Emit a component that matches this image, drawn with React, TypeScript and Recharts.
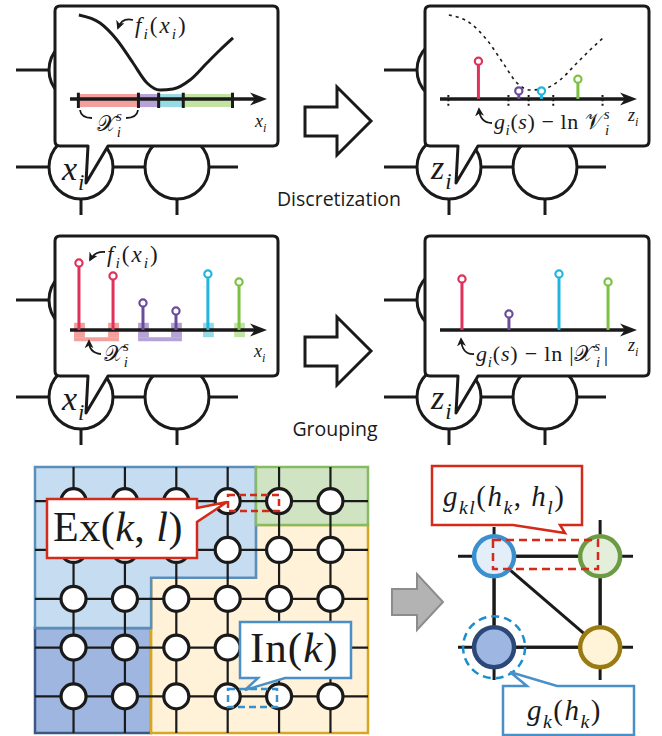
import React from 'react';
import {
  ComposedChart,
  ScatterChart,
  Line,
  Scatter,
  XAxis,
  YAxis,
  ReferenceArea,
  ReferenceLine,
  ReferenceDot,
} from 'recharts';

// ---------- data ----------
// f_i(x_i) (x in axis units, f above the axis)
const curveX = [0.9, 3.05, 4.77, 6.4, 7.82, 9.14, 10.46, 12.18, 13.9, 15.23, 16.55];
const curveF = [9.33, 8.44, 6.56, 4.0, 1.78, 1.0, 1.11, 2.11, 4.0, 5.44, 6.78];

// discretization bins X_i^s and their stems g_i(s) - ln V_i^s
const binEdges = [0.85, 6.95, 9.0, 11.5, 16.5];
const binStemX = [3.9, 8.0, 10.3, 14.0];
const binStemZ = [4.2, 0.9, 0.9, 2.2];

// grouping: discrete states of x_i, their f values and group id
const stateX = [0.91, 4.37, 7.41, 10.76, 14.0, 17.16];
const stateF = [7.44, 6.0, 3.0, 2.11, 6.22, 5.33];
const stateGroup = [0, 0, 1, 1, 2, 3];

// grouped stems g_i(s) - ln|X_i^s|
const groupStemX = [2.23, 7.0, 12.08, 17.06];
const groupStemZ = [5.67, 1.78, 6.22, 5.33];

// grid graph
const gridCols = [0, 1, 2, 3, 4, 5];
const gridRows = [0, 1, 2, 3, 4];

// cluster graph
const clusterCol = [0, 1, 0, 1];
const clusterRow = [0, 0, 1, 1];
const clusterEdges = [[0, 1], [0, 2], [1, 3], [2, 3], [0, 3]];

// ---------- styles ----------
const MATH = "'Liberation Serif', 'DejaVu Serif', serif";
const SANS = "'Open Sans', 'Noto Sans', sans-serif";
const INK = '#1a1a1a';
const stemColors = ['#e0315a', '#6b4c9a', '#22b5dd', '#7cc142'];
const binFills = ['#e8504f', '#7a55b5', '#40bccc', '#90cc58'];
const clusterFill = ['#e3eef9', '#e4efdb', '#9db6e2', '#fff3d8'];
const clusterStroke = ['#3a8fcf', '#6b9b43', '#2b4878', '#9a7b12'];

// lollipop panel geometry
const PW = 197;
const PH = 108;
const X_DOM: [number, number] = [0, 20];
const Y_DOM: [number, number] = [-2, 10];
const zeroY = (PH * Y_DOM[1]) / (Y_DOM[1] - Y_DOM[0]);
const ZERO = { top: 0, right: 0, bottom: 0, left: 0 };

// grid geometry
const G = { left: 35, top: 467, w: 334, h: 266, x: [-0.75, 5.75], y: [-0.7, 4.75] };
const gx = (c: number) => G.left + ((c - G.x[0]) / (G.x[1] - G.x[0])) * G.w;
const gy = (r: number) => G.top + ((r - G.y[0]) / (G.y[1] - G.y[0])) * G.h;

// cluster graph geometry
const C = { left: 458, top: 520, w: 175, h: 160, x: [-0.34, 1.31], y: [-0.4, 1.36] };
const cx = (c: number) => C.left + ((c - C.x[0]) / (C.x[1] - C.x[0])) * C.w;
const cy = (r: number) => C.top + ((r - C.y[0]) / (C.y[1] - C.y[0])) * C.h;

const curve = curveX.map((x, i) => ({ x, y: curveF[i] }));
const binStems = binStemX.map((x, i) => ({ x, y: binStemZ[i], k: i }));
const states = stateX.map((x, i) => ({ x, y: stateF[i], k: stateGroup[i] }));
const groupStems = groupStemX.map((x, i) => ({ x, y: groupStemZ[i], k: i }));
const gridNodes = gridRows.flatMap((r) => gridCols.map((c) => ({ x: c, y: r })));
const clusters = clusterCol.map((x, i) => ({ x, y: clusterRow[i], k: i }));

const stemShape = (p: any) => {
  const col = stemColors[p.payload.k];
  return (
    <g>
      <line x1={p.cx} x2={p.cx} y1={p.cy + 3} y2={zeroY} stroke={col} strokeWidth={3} />
      <circle cx={p.cx} cy={p.cy} r={3.6} fill="#fff" stroke={col} strokeWidth={2.2} />
    </g>
  );
};

const arrowHead = (p: any) => (
  <path
    d={`M${p.cx},${p.cy} L${p.cx - 17},${p.cy - 6.5} L${p.cx - 12},${p.cy} L${p.cx - 17},${p.cy + 6.5} Z`}
    fill={INK}
  />
);

function Panel({ left, top, children }: { left: number; top: number; children: React.ReactNode }) {
  return (
    <div style={{ position: 'absolute', left, top, width: PW, height: PH }}>
      <ComposedChart width={PW} height={PH} margin={ZERO}>
        <XAxis type="number" dataKey="x" domain={X_DOM} hide allowDataOverflow />
        <YAxis type="number" dataKey="y" domain={Y_DOM} hide allowDataOverflow />
        {children}
        <ReferenceLine
          segment={[{ x: 0, y: 0 }, { x: 19, y: 0 }]}
          stroke={INK}
          strokeWidth={3.5}
          ifOverflow="visible"
        />
        <ReferenceDot x={20} y={0} ifOverflow="visible" shape={arrowHead} />
      </ComposedChart>
    </div>
  );
}

// math text: segments [text, italic?, 'b' sub | 'p' sup | '', dx]
type Seg = [string, boolean, string?, number?];
function M({ x, y, size, segs, ls = 0 }: { x: number; y: number; size: number; segs: Seg[]; ls?: number }) {
  let cur = 0;
  return (
    <text x={x} y={y} fontFamily={MATH} fontSize={size} fill={INK} letterSpacing={ls}>
      {segs.map(([t, it, pos = '', dx = 0], k) => {
        const target = pos === 'b' ? size * 0.28 : pos === 'p' ? -size * 0.45 : 0;
        const dy = target - cur;
        cur = target;
        return (
          <tspan key={k} dx={dx} dy={dy} fontStyle={it ? 'italic' : 'normal'} fontSize={pos ? size * 0.68 : size}>
            {t}
          </tspan>
        );
      })}
    </text>
  );
}

function Bubble({ dx, dy, w }: { dx: number; dy: number; w: number }) {
  const x0 = 55 + dx, x1 = x0 + w, y0 = 6 + dy, y1 = 146 + dy, r = 5;
  const d = `M${x0 + r},${y0} H${x1 - r} Q${x1},${y0} ${x1},${y0 + r} V${y1 - r} Q${x1},${y1} ${x1 - r},${y1}
    H${108 + dx} L${86 + dx},${183 + dy} L${88 + dx},${y1} H${x0 + r} Q${x0},${y1} ${x0},${y1 - r} V${y0 + r} Q${x0},${y0} ${x0 + r},${y0} Z`;
  return <path d={d} fill="#fff" stroke={INK} strokeWidth={3} strokeLinejoin="round" />;
}

function Factor({ dx, dy }: { dx: number; dy: number }) {
  const xs = [81 + dx, 177 + dx];
  const ys = [70 + dy, 167 + dy];
  return (
    <g stroke={INK} strokeWidth={3}>
      {ys.map((y) => (
        <line key={'h' + y} x1={16 + dx} x2={238 + dx} y1={y} y2={y} />
      ))}
      {xs.map((x) => (
        <line key={'v' + x} x1={x} x2={x} y1={40 + dy} y2={215 + dy} />
      ))}
      {ys.map((y) => xs.map((x) => <circle key={x + '-' + y} cx={x} cy={y} r={32} fill="#fff" />))}
    </g>
  );
}

function BigArrow({ dy }: { dy: number }) {
  const pts = [
    [305, 107], [337, 107], [337, 87], [371, 121], [337, 155], [337, 136], [305, 136],
  ].map(([x, y]) => `${x},${y + dy}`).join(' ');
  return <polygon points={pts} fill="#fff" stroke={INK} strokeWidth={3} strokeLinejoin="miter" />;
}

const poly = (pts: number[][]) => pts.map(([c, r]) => `${gx(c)},${gy(r)}`).join(' ');

const regions = [
  { pts: [[-0.75, 2.6], [1.51, 2.6], [1.51, 4.75], [-0.75, 4.75]], fill: '#9fb6e0', stroke: '#3b5784' },
  { pts: [[3.55, 0.49], [5.73, 0.49], [5.73, 4.75], [1.51, 4.75], [1.51, 1.57], [3.55, 1.57]], fill: '#fff2d8', stroke: '#d6a624' },
  { pts: [[-0.75, -0.7], [3.55, -0.7], [3.55, 1.57], [1.51, 1.57], [1.51, 2.6], [-0.75, 2.6]], fill: '#c6dcf0', stroke: '#5b8eb9' },
  { pts: [[3.55, -0.7], [5.73, -0.7], [5.73, 0.49], [3.55, 0.49]], fill: '#d0e4c4', stroke: '#86bb63' },
];

export default function App() {
  return (
    <div style={{ position: 'absolute', left: 0, top: 0, width: 662, height: 736, background: '#fff', overflow: 'hidden' }}>
      <style>{'.recharts-surface{overflow:visible}'}</style>

      {/* background drawing */}
      <svg width={662} height={736} style={{ position: 'absolute', left: 0, top: 0 }}>
        <Factor dx={0} dy={0} />
        <Factor dx={368} dy={0} />
        <Factor dx={0} dy={230} />
        <Factor dx={368} dy={230} />
        <Bubble dx={0} dy={0} w={223} />
        <Bubble dx={370} dy={0} w={224} />
        <Bubble dx={0} dy={230} w={223} />
        <Bubble dx={370} dy={230} w={224} />
        <BigArrow dy={0} />
        <BigArrow dy={230} />
        <text x={339} y={206} textAnchor="middle" fontFamily={SANS} fontSize={19.5} fill={INK}>
          Discretization
        </text>
        <text x={335} y={436} textAnchor="middle" fontFamily={SANS} fontSize={19.5} fill={INK}>
          Grouping
        </text>

        {regions.map((g, i) => (
          <polygon key={i} points={poly(g.pts)} fill={g.fill} stroke={g.stroke} strokeWidth={2.5} />
        ))}
        <g stroke={INK} strokeWidth={2.2}>
          {gridRows.map((r) => (
            <line key={'r' + r} x1={G.left} x2={G.left + G.w - 1} y1={gy(r)} y2={gy(r)} />
          ))}
          {gridCols.map((c) => (
            <line key={'c' + c} x1={gx(c)} x2={gx(c)} y1={G.top} y2={G.top + G.h} />
          ))}
        </g>

        <polygon
          points="392,589 417,589 417,574 443,602 417,630 417,615 392,615"
          fill="#b3b3b3"
          stroke="#8c8c8c"
          strokeWidth={2}
        />

        <g stroke={INK} strokeWidth={3}>
          {clusterRow.slice(0, 2).map((_, i) => (
            <line key={'h' + i} x1={C.left} x2={C.left + C.w} y1={cy(i)} y2={cy(i)} />
          ))}
          <line x1={cx(0)} x2={cx(0)} y1={C.top + 7} y2={C.top + C.h} />
          <line x1={cx(1)} x2={cx(1)} y1={C.top} y2={C.top + C.h} />
          {clusterEdges.map(([a, b], i) => (
            <line
              key={'e' + i}
              x1={cx(clusterCol[a])}
              y1={cy(clusterRow[a])}
              x2={cx(clusterCol[b])}
              y2={cy(clusterRow[b])}
            />
          ))}
        </g>
      </svg>

      {/* top-left: continuous f_i(x_i) and its bins */}
      <Panel left={70} top={9}>
        <Line data={curve} dataKey="y" type="monotone" stroke={INK} strokeWidth={3} dot={false} isAnimationActive={false} />
        {binEdges.slice(0, -1).map((e, i) => (
          <ReferenceArea key={'b' + i} x1={e} x2={binEdges[i + 1]} y1={-0.9} y2={0.55} fill={binFills[i]} fillOpacity={0.55} stroke="none" />
        ))}
        {binEdges.map((e, i) => (
          <ReferenceLine key={'t' + i} segment={[{ x: e, y: 0.7 }, { x: e, y: -1.0 }]} stroke={INK} strokeWidth={3} />
        ))}
      </Panel>

      {/* top-right: discretized stems */}
      <Panel left={440} top={9}>
        <Line data={curve} dataKey="y" type="monotone" stroke={INK} strokeWidth={1.6} strokeDasharray="3 4" dot={false} isAnimationActive={false} />
        {binEdges.map((e, i) => (
          <ReferenceLine key={'t' + i} segment={[{ x: e, y: 0.45 }, { x: e, y: -1.0 }]} stroke={INK} strokeWidth={2} strokeDasharray="2 2.4" />
        ))}
        <Scatter data={binStems} shape={stemShape} isAnimationActive={false} />
      </Panel>

      {/* grouping left: discrete states and their groups */}
      <Panel left={70} top={240}>
        {states.map((s, i) => (
          <ReferenceArea key={'s' + i} x1={s.x - 0.5} x2={s.x + 0.6} y1={-0.8} y2={0.8} fill={binFills[s.k]} fillOpacity={0.55} stroke="none" />
        ))}
        {[0, 1, 2, 3].map((g) => {
          const xs = states.filter((s) => s.k === g).map((s) => s.x);
          if (xs.length < 2) return null;
          return (
            <ReferenceArea key={'g' + g} x1={Math.min(...xs) - 0.5} x2={Math.max(...xs) + 0.6} y1={-1.25} y2={-0.8} fill={binFills[g]} fillOpacity={0.55} stroke="none" />
          );
        })}
        <Scatter data={states} shape={stemShape} isAnimationActive={false} />
      </Panel>

      {/* grouping right */}
      <Panel left={440} top={240}>
        <Scatter data={groupStems} shape={stemShape} isAnimationActive={false} />
      </Panel>

      {/* grid graph nodes */}
      <div style={{ position: 'absolute', left: G.left, top: G.top }}>
        <ScatterChart width={G.w} height={G.h} margin={ZERO}>
          <XAxis type="number" dataKey="x" domain={G.x} hide allowDataOverflow />
          <YAxis type="number" dataKey="y" domain={G.y} reversed hide allowDataOverflow />
          <Scatter
            data={gridNodes}
            isAnimationActive={false}
            shape={(p: any) => <circle cx={p.cx} cy={p.cy} r={12.5} fill="#fff" stroke={INK} strokeWidth={3.2} />}
          />
        </ScatterChart>
      </div>

      {/* cluster graph nodes */}
      <div style={{ position: 'absolute', left: C.left, top: C.top }}>
        <ScatterChart width={C.w} height={C.h} margin={ZERO}>
          <XAxis type="number" dataKey="x" domain={C.x} hide allowDataOverflow />
          <YAxis type="number" dataKey="y" domain={C.y} reversed hide allowDataOverflow />
          <Scatter
            data={clusters}
            isAnimationActive={false}
            shape={(p: any) => (
              <circle cx={p.cx} cy={p.cy} r={20} fill={clusterFill[p.payload.k]} stroke={clusterStroke[p.payload.k]} strokeWidth={4.5} />
            )}
          />
        </ScatterChart>
      </div>

      {/* overlay: labels and call-outs */}
      <svg width={662} height={736} style={{ position: 'absolute', left: 0, top: 0, pointerEvents: 'none' }}>
        <defs>
          <marker id="ah" viewBox="0 0 10 10" refX="8" refY="5" markerWidth="5" markerHeight="5" orient="auto">
            <path d="M0,0 L10,5 L0,10 L3,5 Z" fill={INK} />
          </marker>
        </defs>
        <g fill="none" stroke={INK} strokeWidth={1.8}>
          <path d="M133,20 Q122,17 118,28" markerEnd="url(#ah)" />
          <path d="M80,110 Q81,118 92,118" />
          <path d="M126,118 Q137,118 138,110" />
          <path d="M492,123 Q480,123 479,109" markerEnd="url(#ah)" />
          <path d="M105,252 Q95,251 90,260" markerEnd="url(#ah)" />
          <path d="M101,354 Q89,353 89,341" markerEnd="url(#ah)" />
          <path d="M474,354 Q462,355 461,339" markerEnd="url(#ah)" />
        </g>

        <M x={135} y={33} size={23} ls={2} segs={[['f', true], ['i', true, 'b'], ['(', false], ['x', true], ['i', true, 'b'], [')', false]]} />
        <M x={97} y={131} size={22} segs={[['𝒳', false], ['s', true, 'p'], ['i', true, 'b', -5]]} />
        <M x={255} y={127} size={18} segs={[['x', true], ['i', true, 'b']]} />
        <M x={62} y={180} size={34} segs={[['x', true], ['i', true, 'b', 1]]} />

        <M x={494} y={129} size={22} ls={0.6} segs={[['g', true], ['i', true, 'b'], ['(', false], ['s', true], [') − ln ', false], ['𝒱', false], ['s', true, 'p'], ['i', true, 'b', -5]]} />
        <M x={628} y={121} size={18} segs={[['z', true], ['i', true, 'b']]} />
        <M x={431} y={179} size={34} segs={[['z', true], ['i', true, 'b', 1]]} />

        <M x={107} y={262} size={23} ls={2} segs={[['f', true], ['i', true, 'b'], ['(', false], ['x', true], ['i', true, 'b'], [')', false]]} />
        <M x={104} y={361} size={22} segs={[['𝒳', false], ['s', true, 'p'], ['i', true, 'b', -5]]} />
        <M x={254} y={357} size={18} segs={[['x', true], ['i', true, 'b']]} />
        <M x={62} y={410} size={34} segs={[['x', true], ['i', true, 'b', 1]]} />

        <M x={476} y={361} size={22} ls={0.8} segs={[['g', true], ['i', true, 'b'], ['(', false], ['s', true], [') − ln |', false], ['𝒳', false], ['s', true, 'p'], ['i', true, 'b', -5], ['|', false, '', 3]]} />
        <M x={628} y={351} size={18} segs={[['z', true], ['i', true, 'b']]} />
        <M x={431} y={409} size={34} segs={[['z', true], ['i', true, 'b', 1]]} />

        {/* grid call-outs */}
        <path d="M47,499 H197 V508 L227,502 L197,522 V558 H47 Z" fill="#fff" stroke="#d42a1a" strokeWidth={2.5} />
        <rect x={228} y={495} width={51} height={16} fill="none" stroke="#d42a1a" strokeWidth={2.5} strokeDasharray="7 4" />
        <M x={53} y={541} size={42} ls={0.5} segs={[['Ex(', false], ['k', true], [', ', false], ['l', true], [')', false]]} />

        <path d="M240,622 H351 V678 H285 L245,690 L258,678 H240 Z" fill="#fff" stroke="#4a90c8" strokeWidth={2.5} />
        <rect x={228} y={689} width={49} height={18} fill="none" stroke="#3a8fcf" strokeWidth={2.5} strokeDasharray="7 4" />
        <M x={250} y={662} size={43} ls={1} segs={[['In(', false], ['k', true], [')', false]]} />

        {/* cluster call-outs */}
        <rect x={493} y={540} width={105} height={29} fill="none" stroke="#d42a1a" strokeWidth={2.5} strokeDasharray="8 5" />
        <circle cx={cx(0)} cy={cy(1)} r={31} fill="none" stroke="#1a8fd0" strokeWidth={2.5} strokeDasharray="8 5" />
        <path d="M432,466 H582 V525 H560 L565,533 L513,525 H432 Z" fill="#fff" stroke="#d42a1a" strokeWidth={2.5} />
        <M x={443} y={506} size={29} ls={1.5} segs={[['g', true], ['kl', true, 'b'], ['(', false], ['h', true], ['k', true, 'b'], [', ', false], ['h', true], ['l', true, 'b'], [')', false]]} />
        <path d="M503,686 H527 L510,672 L557,686 H634 V735 H503 Z" fill="#fff" stroke="#4a90c8" strokeWidth={2.5} />
        <M x={527} y={720} size={29} ls={1.5} segs={[['g', true], ['k', true, 'b'], ['(', false], ['h', true], ['k', true, 'b'], [')', false]]} />
      </svg>
    </div>
  );
}
